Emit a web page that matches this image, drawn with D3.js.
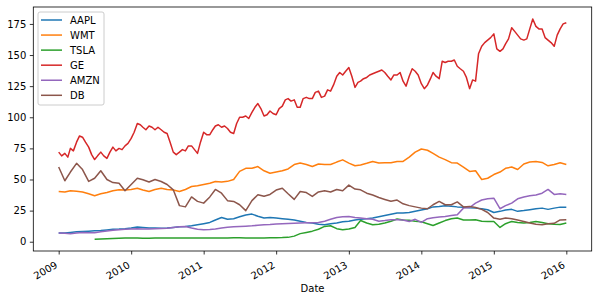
<!DOCTYPE html>
<html lang="en">
<head>
  <meta charset="UTF-8">
  <title>Stock prices</title>
  <style>
    body { margin: 0; padding: 0; background: #fff; }
    svg { font-family: "DejaVu Sans", sans-serif; font-size: 10px; }
    .series { fill: none; stroke-width: 1.5px; stroke-linejoin: round; }
    .spine { fill: none; stroke: #000; stroke-width: 0.8px; }
    .tick line { stroke: #000; stroke-width: 0.8px; }
  </style>
</head>
<body>
  <div id="chart"></div>
  <script src="https://d3js.org/d3.v7.min.js"></script>
  <script>
    // monthly readings, Jan 2009 .. Jan 2016 (85 points)
    var AAPL = [7, 7, 7.5, 8, 8.2, 8.5, 8.8, 9, 9.5, 10, 10.2, 10.5, 11, 11.8, 11.5, 11, 11, 10.8, 11, 11.5,
      12, 12.3, 12.8, 13.6, 14.5, 15.5, 17.5, 19.5, 18, 18.5, 20, 21.5, 22.2, 20.5, 19, 19.5, 19, 18.5, 18, 17.5,
      16.5, 15.5, 15, 14, 13.6, 14.5, 15, 16, 16.5, 17.5, 18, 18.5, 19, 20, 21, 22, 23, 23, 23.5, 24.5,
      25.5, 26.5, 28, 28.4, 28.9, 28.6, 28, 27.8, 27.3, 27, 26.5, 25.7, 23.5, 24.4, 25.5, 26, 24.4, 25, 25.7, 26.5,
      27, 26, 27, 27.8, 27.8];
    var WMT = [40.4, 40, 41, 40.5, 40, 38.5, 37, 38.5, 39.5, 41, 41.7, 41.5, 42, 43, 41.5, 40.4, 42, 43, 42, 41.5,
      40.4, 42, 44.4, 45, 46, 47, 48.4, 48, 48.5, 50, 56.5, 59, 59, 60.4, 57, 55, 56, 57, 58.5, 62,
      63.2, 62, 60.4, 62.5, 62, 62, 64, 65.8, 63.2, 61, 61.7, 63, 64.5, 63.2, 63.5, 63.5, 64.5, 64.5, 68, 72,
      74.5, 73.5, 71, 68, 66, 63.5, 63.2, 60, 56.5, 57, 50, 51, 54, 56, 59, 60, 58, 62.5, 64, 64.5,
      63.7, 61, 62, 63.5, 62];
    var TSLA = [null, null, null, null, null, null, 2.0, 2.2, 2.4, 2.6, 2.8, 3, 3, 3, 2.8, 2.8, 2.9, 3, 3, 2.9,
      2.9, 3, 3, 3, 3, 3, 3, 3, 3, 3.1, 3.1, 3, 3, 3, 3, 3.1, 3.2, 3.3, 3.5, 4.5,
      6.5, 7.5, 8.5, 10, 12.3, 12.8, 10.5, 9.6, 10.2, 11.5, 17, 15, 13.6, 14, 15, 16.5, 18.2, 17.5, 17.2, 16.5,
      16, 14.5, 13, 15, 17, 18.5, 19, 17.5, 17.5, 17.7, 16.5, 16.3, 16.3, 11.5, 14.5, 16.3, 15.5, 15, 15.5, 16.3,
      15.5, 14.5, 14, 13.8, 15];
    var AMZN = [7, 6.8, 6.5, 7, 7.5, 7.3, 7.2, 8, 8.6, 9.3, 9.7, 10, 10.2, 10.5, 10.2, 10.2, 10.5, 10.7, 10.9, 11.5,
      12, 12.3, 11, 10, 9.7, 9.8, 10.2, 11, 11.7, 12, 12.2, 12.5, 12.8, 13.2, 13.6, 13.8, 14.2, 14.4, 14.6, 14.8,
      15, 15.2, 15.3, 15.5, 16.5, 18, 19.5, 20, 20.3, 19.5, 19, 18.5, 18, 16.5, 17, 17.7, 17.7, 17.5, 16.3, 18,
      15.5, 18.5, 19.3, 19.8, 20.3, 21, 21.7, 27, 27.5, 31, 33.5, 34.5, 35, 26.5, 29, 31, 34.5, 36, 37, 37.5,
      39, 42, 38, 38.5, 38];
    var DB = [60, 49, 56, 63, 58, 48.5, 51, 57, 50, 47.5, 47, 41, 46, 51, 49.8, 48, 50, 48.4, 46, 41.7,
      29, 28, 36, 32.4, 31, 36, 42, 39, 33, 32.4, 29.7, 25, 33, 37.7, 36.5, 38, 41.5, 43, 38.5, 34,
      40.4, 39.5, 36.4, 40, 41, 40, 42, 41, 45.5, 42.3, 41.7, 39, 37.5, 35.5, 34, 32.5, 33.5, 30.5, 29, 28,
      27, 26.5, 29.7, 32.4, 29.7, 29.7, 32, 28, 28.4, 27.5, 26, 23.5, 19, 18, 19, 18.5, 17.5, 16.3, 15, 14,
      13.6, 14.5, 14.8, 17.5, 17.7];
    // half-monthly readings, 1st and 16th of each month (169 points)
    var GE = [72, 69, 71, 68, 75, 73, 80, 85, 84, 80, 76, 70, 66, 69, 72, 69, 67, 72, 76, 73,
      75, 74, 77, 79, 83, 88, 95, 94, 92, 90, 93, 92, 90, 92, 90, 88, 87, 80, 72, 70,
      72, 74, 73, 77, 77, 74, 71, 80, 88, 86, 86, 90, 93, 94, 92, 93, 91, 88, 87, 95,
      100, 100, 101, 99, 104, 108, 111, 107, 101, 102, 105, 103, 102, 107, 109, 114, 115, 113, 114, 108,
      108, 115, 116, 115, 115, 120, 121, 116, 117, 122, 121, 126, 133, 136, 134, 137, 140, 133, 124, 128,
      129, 131, 132, 134, 135, 136, 137, 138, 136, 133, 130, 134, 134, 136, 129, 125, 133, 139, 137, 134,
      127, 123, 126, 131, 136, 133, 131, 145, 144, 145, 145, 146, 141, 139, 137, 132, 123, 130, 129, 151,
      157, 160, 162, 164, 167, 155, 153, 155, 159, 163, 172, 169, 166, 163, 162, 163, 171, 179, 173, 171,
      171, 164, 162, 160, 157, 166, 171, 175, 176];

    var names = ["AAPL", "WMT", "TSLA", "GE", "AMZN", "DB"];
    var colors = ["#1f77b4", "#ff7f0e", "#2ca02c", "#d62728", "#9467bd", "#8c564b"];
    var yTicks = [0, 25, 50, 75, 100, 125, 150, 175];
    var xTicks = [2009, 2010, 2011, 2012, 2013, 2014, 2015, 2016];

    var monthDate = function(i) { return new Date(Date.UTC(2009, i, 1)); };
    var halfDate = function(k) { return new Date(Date.UTC(2009, Math.floor(k / 2), k % 2 ? 16 : 1)); };

    var seriesData = [AAPL, WMT, TSLA, GE, AMZN, DB].map(function(vals, j) {
      var toDate = vals.length > 100 ? halfDate : monthDate;
      return {
        name: names[j],
        color: colors[j],
        points: vals.map(function(v, i) { return { date: toDate(i), value: v }; })
      };
    });

    var width = 598, height = 301;
    var plotLeft = 33.3, plotRight = 591.7, plotTop = 7, plotBottom = 251;

    var svg = d3.select("#chart").append("svg")
      .attr("width", width)
      .attr("height", height);

    var d0 = monthDate(0), d1 = monthDate(84);
    var pad = (d1 - d0) * 0.05;
    var x = d3.scaleUtc()
      .domain([new Date(+d0 - pad), new Date(+d1 + pad)])
      .range([plotLeft, plotRight]);
    var y = d3.scaleLinear()
      .domain([-7.45, 188.6])
      .range([plotBottom, plotTop]);

    var line = d3.line()
      .defined(function(d) { return d.value != null; })
      .x(function(d) { return x(d.date); })
      .y(function(d) { return y(d.value); });

    var plot = svg.append("g");
    plot.selectAll(".series")
      .data(seriesData)
      .enter().append("path")
      .attr("class", "series")
      .attr("stroke", function(d) { return d.color; })
      .attr("d", function(d) { return line(d.points); });

    // y axis
    var yAxis = svg.append("g")
      .attr("transform", "translate(" + plotLeft + ",0)")
      .call(d3.axisLeft(y).tickValues(yTicks).tickSize(3.5).tickPadding(3.5));
    yAxis.select(".domain").remove();
    yAxis.selectAll("text").attr("fill", "#000").attr("font-size", 10).attr("font-family", "DejaVu Sans");

    // x axis
    var xAxis = svg.append("g")
      .attr("transform", "translate(0," + plotBottom + ")")
      .call(d3.axisBottom(x)
        .tickValues(xTicks.map(function(yr) { return new Date(Date.UTC(yr, 0, 1)); }))
        .tickFormat(d3.utcFormat("%Y"))
        .tickSize(3.5));
    xAxis.select(".domain").remove();
    xAxis.selectAll("text")
      .attr("fill", "#000")
      .attr("font-size", 10)
      .attr("font-family", "DejaVu Sans")
      .attr("text-anchor", "end")
      .attr("dy", null)
      .attr("y", 0)
      .attr("transform", "translate(-1,16) rotate(-30)");

    svg.append("text")
      .attr("x", (plotLeft + plotRight) / 2)
      .attr("y", 292)
      .attr("text-anchor", "middle")
      .attr("fill", "#000")
      .text("Date");

    svg.append("rect")
      .attr("class", "spine")
      .attr("x", plotLeft)
      .attr("y", plotTop)
      .attr("width", plotRight - plotLeft)
      .attr("height", plotBottom - plotTop);

    // legend
    var legend = svg.append("g").attr("transform", "translate(38,12)");
    legend.append("rect")
      .attr("width", 66)
      .attr("height", 93)
      .attr("rx", 2)
      .attr("fill", "#fff")
      .attr("fill-opacity", 0.8)
      .attr("stroke", "#cccccc")
      .attr("stroke-width", 1);
    var item = legend.selectAll(".item")
      .data(seriesData)
      .enter().append("g")
      .attr("transform", function(d, i) { return "translate(0," + (8 + i * 15.06) + ")"; });
    item.append("line")
      .attr("x1", 3).attr("x2", 24)
      .attr("stroke", function(d) { return d.color; })
      .attr("stroke-width", 1.5);
    item.append("text")
      .attr("x", 32)
      .attr("dy", "0.36em")
      .attr("fill", "#000")
      .text(function(d) { return d.name; });
  </script>
</body>
</html>
